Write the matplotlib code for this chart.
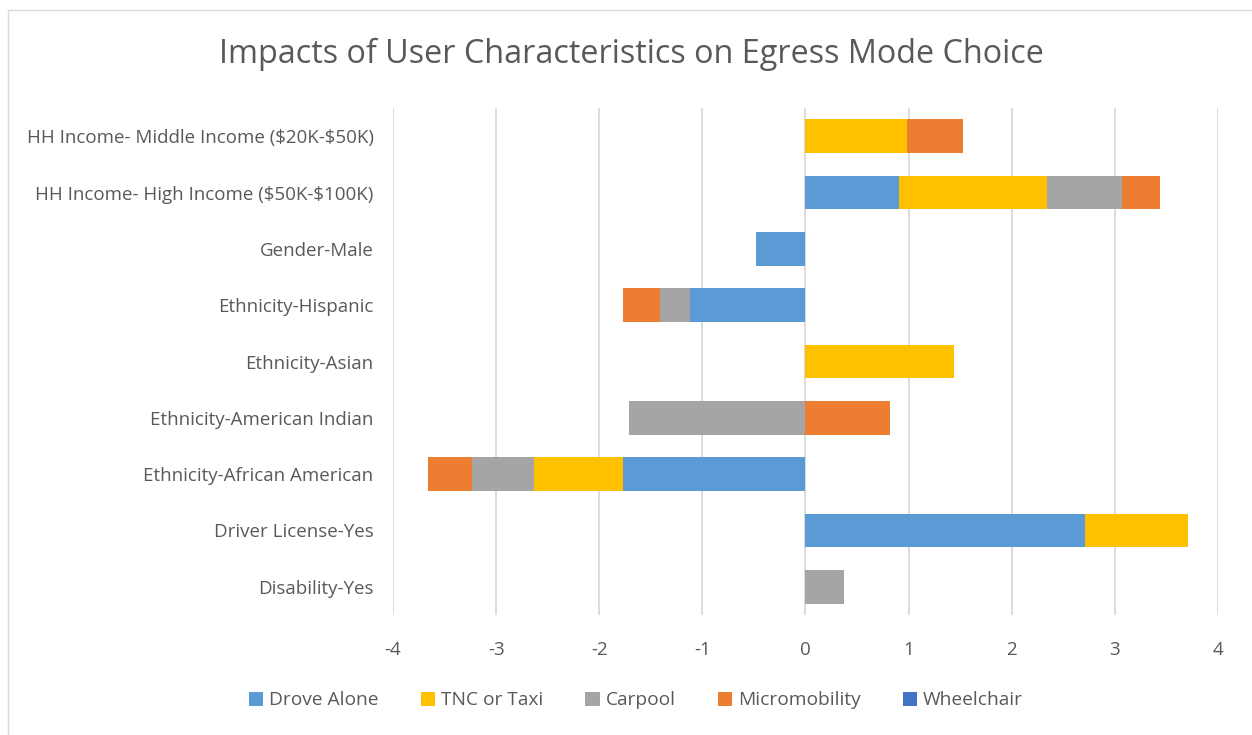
import matplotlib.pyplot as plt
import numpy as np
from matplotlib.patches import Rectangle

plt.rcParams['font.family'] = ['Open Sans', 'DejaVu Sans']
plt.rcParams['axes.unicode_minus'] = False

# categories listed bottom to top
categories = [
    'Disability-Yes',
    'Driver License-Yes',
    'Ethnicity-African American',
    'Ethnicity-American Indian',
    'Ethnicity-Asian',
    'Ethnicity-Hispanic',
    'Gender-Male',
    'HH Income- High Income (\\$50K-\\$100K)',
    'HH Income- Middle Income (\\$20K-\\$50K)',
]

drove_alone = [0.0, 2.71, -1.77, 0.0, 0.0, -1.12, -0.48, 0.91, 0.0]
tnc_taxi = [0.0, 1.00, -0.86, 0.0, 1.44, 0.0, 0.0, 1.43, 0.98]
carpool = [0.37, 0.0, -0.60, -1.71, 0.0, -0.29, 0.0, 0.73, 0.0]
micromobility = [0.0, 0.0, -0.43, 0.82, 0.0, -0.36, 0.0, 0.37, 0.55]
wheelchair = [0.0, 0.0, 0.0, 0.0, 0.0, 0.0, 0.0, 0.0, 0.0]

series = [
    ('Drove Alone', drove_alone, '#5B9BD5'),
    ('TNC or Taxi', tnc_taxi, '#FFC000'),
    ('Carpool', carpool, '#A5A5A5'),
    ('Micromobility', micromobility, '#ED7D31'),
    ('Wheelchair', wheelchair, '#4472C4'),
]

fig = plt.figure(figsize=(12.52, 7.35), dpi=100)
ax = fig.add_axes([0.3139, 0.1633, 0.6589, 0.6897])

y = np.arange(len(categories))
pos_base = np.zeros(len(categories))
neg_base = np.zeros(len(categories))

handles = []
for label, vals, color in series:
    vals = np.array(vals)
    left = np.where(vals >= 0, pos_base, neg_base)
    h = ax.barh(y, vals, left=left, height=0.6, color=color, label=label, zorder=3)
    handles.append(h)
    pos_base += np.where(vals > 0, vals, 0)
    neg_base += np.where(vals < 0, vals, 0)

ax.set_xlim(-4, 4)
ax.set_ylim(-0.5, len(categories) - 0.5)
ax.set_xticks(np.arange(-4, 5, 1))
ax.set_yticks(y)
ax.set_yticklabels(categories)
ax.grid(axis='x', color='#D9D9D9', linewidth=1.3, zorder=0)
for s in ax.spines.values():
    s.set_visible(False)
ax.tick_params(axis='both', length=0, labelsize=13.5, colors='#595959')
ax.tick_params(axis='x', pad=19)
ax.tick_params(axis='y', pad=14)

fig.suptitle('Impacts of User Characteristics on Egress Mode Choice',
             fontsize=23.3, color='#595959', y=0.948, x=0.504)

fig.legend(handles=handles, loc='center', bbox_to_anchor=(0.508, 0.047), ncol=5,
           frameon=False, fontsize=13.8, labelcolor='#595959', handlelength=0.75,
           handleheight=0.75, handletextpad=0.3, columnspacing=2.2)

fig.patches.append(Rectangle((0.006, -0.01), 1.0, 0.997, transform=fig.transFigure,
                             fill=False, edgecolor='#D9D9D9', linewidth=1))

fig.savefig('out.png', dpi=100)
